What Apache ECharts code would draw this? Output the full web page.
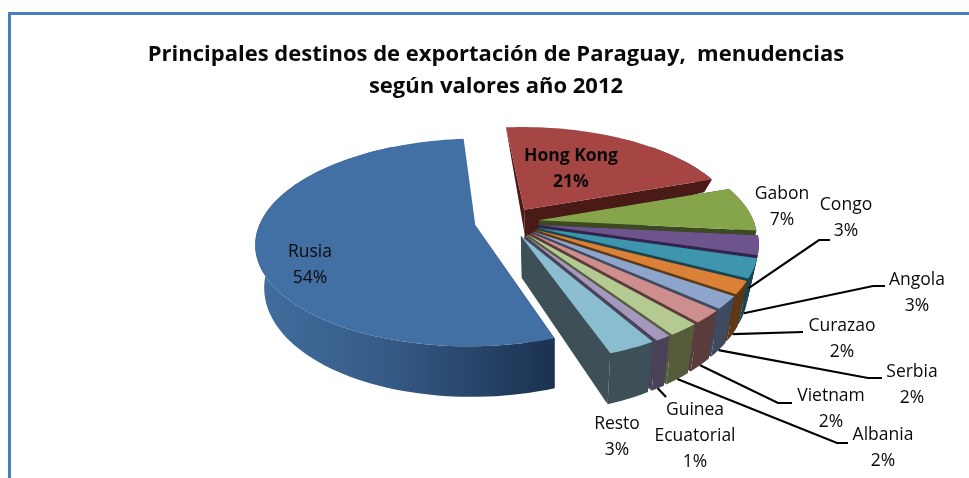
<!DOCTYPE html>
<html><head><meta charset="utf-8">
<style>html,body{margin:0;padding:0;background:#fff}#c{width:969px;height:478px}</style>
<script src="https://cdn.jsdelivr.net/npm/echarts@6/dist/echarts.min.js"></script>
</head><body><div id="c"></div>
<script>
const titleLines = ['Principales destinos de exportación de Paraguay,  menudencias', 'según valores año 2012'];
const categories = ['Rusia','Hong Kong','Gabon','Congo','Angola','Curazao','Serbia','Vietnam','Albania','Guinea\nEcuatorial','Resto'];
const values = [54,21,7,3,3,2,2,2,2,1,3];
const topColors = ['#4370A4','#A64644','#86A44A','#6E548D','#3D96AE','#DA8137','#8EA5CB','#CE8E8D','#B5CA92','#A499BC','#8BBDD1'];
const wallColors = ['#2C4A70','#4A1A17','#3B4A20','#33234D','#1A4550','#5E3714','#3D4A60','#5A3C3C','#545C3C','#4A4258','#3D5058'];

// Drawing settings (not data)
const pie = {cx:507, cy:222, rx:215, ry:100, persp:0.165, explode:0.15, startDeg:160.6};
// wall depth (px) at a given front-to-back position on the pie disc
const wallDepth = [[-0.85,0],[-0.48,12],[-0.128,27],[0.135,42],[0.97,50],[1.2,52]];
// label centre and optional leader elbow points (style/layout only)
const labelLayout = [
 {at:[310,265]},
 {at:[571,169],bold:true},
 {at:[782,207]},
 {at:[846,218], elbow:[[819,240],[830,240]]},
 {at:[917,293], elbow:[[873,286],[885,286]]},
 {at:[842,339], elbow:[[803,332]]},
 {at:[912,385], elbow:[[868,378],[882,378]]},
 {at:[831,409], elbow:[[778,403],[792,403]]},
 {at:[883,448], elbow:[[837,443],[848,443]]},
 {at:[695,436], elbow:[[666,397]]},
 {at:[617,437]}
];

const total = values.reduce((a,b)=>a+b,0);
const rad = d=>d*Math.PI/180;
const spans = []; (function(){let a=pie.startDeg; values.forEach(v=>{const s=v/total*360; spans.push([a,a+s]); a+=s;});})();

function disc(i,deg){
  const [a,b]=spans[i], m=rad((a+b)/2), t=rad(deg);
  return [Math.sin(t)+pie.explode*Math.sin(m), -Math.cos(t)-pie.explode*Math.cos(m)];
}
function proj(p){ const w=1-pie.persp*p[1]; return [pie.cx+pie.rx*p[0]/w, pie.cy+pie.ry*p[1]/w]; }
function depthAt(v){
  if(v<=wallDepth[0][0]) return 0;
  for(let k=1;k<wallDepth.length;k++){
    const [v0,d0]=wallDepth[k-1],[v1,d1]=wallDepth[k];
    if(v<=v1) return d0+(d1-d0)*(v-v0)/(v1-v0);
  }
  return wallDepth[wallDepth.length-1][1];
}
function drop(pt,v){
  const k=pt[0]<555?0.03:0.05;
  const d=depthAt(v);
  return d===0 ? pt : [pt[0]-(pt[0]-555)*k, pt[1]+d];
}
const topPt = (i,deg)=>proj(disc(i,deg));
const botPt = (i,deg)=>{const p=disc(i,deg);return drop(proj(p),p[1]);};
function apex(i){const [a,b]=spans[i],m=rad((a+b)/2);return [Math.sin(m)*pie.explode,-Math.cos(m)*pie.explode];}
function arcDegs(i){const [a,b]=spans[i],n=Math.max(2,Math.ceil((b-a)/2)),r=[];for(let k=0;k<=n;k++)r.push(a+(b-a)*k/n);return r;}

function renderSlice(params,api){
  const i=params.dataIndex, degs=arcDegs(i), A=apex(i), Atop=proj(A), Abot=drop(Atop,A[1]);
  const tops=degs.map(d=>topPt(i,d)), bots=degs.map(d=>botPt(i,d));
  const last=degs.length-1, wall=wallColors[i];
  const poly=(pts,fill)=>({type:'polygon',shape:{points:pts},style:{fill:fill,stroke:null}});
  const wallFill = i===0 ? new echarts.graphic.LinearGradient(0,0,1,0,[{offset:0,color:'#426E9F'},{offset:0.45,color:'#355A86'},{offset:1,color:'#1B3150'}]) : wall;
  const children=[poly([Atop,tops[0],bots[0],Abot],wall)];
  if(i>0) children.push(poly([Atop,tops[last],bots[last],Abot],wall));
  children.push(poly(tops.concat(bots.slice().reverse()),wallFill));
  children.push(poly([Atop].concat(tops),topColors[i]));
  return {type:'group',children};
}
function renderLabel(params,api){
  const i=params.dataIndex, L=labelLayout[i], [a,b]=spans[i];
  const children=[];
  if(L.elbow){
    const m=(a+b)/2, s=botPt(i,m);
    children.push({type:'polyline',shape:{points:[s].concat(L.elbow)},style:{stroke:'#000',lineWidth:2.2,fill:null}});
  }
  children.push({type:'text',x:L.at[0],y:L.at[1],style:{
    text:categories[i]+'\n'+Math.round(values[i]/total*100)+'%',
    x:0,y:0,align:'center',verticalAlign:'middle',lineHeight:26,
    font:(L.bold?'bold ':'')+'17.5px "Open Sans"',fill:'#0a0a0a'}});
  return {type:'group',children};
}
const chart=echarts.init(document.getElementById('c'),null,{renderer:'canvas'});
const sliceData=values.map((v,i)=>({name:categories[i],value:v}));
chart.setOption({
  animation:false,
  backgroundColor:'#fff',
  title:{text:titleLines.join('\n'),left:491,top:34,textAlign:'center',
    textStyle:{fontFamily:'Open Sans',fontWeight:'bold',fontSize:22,lineHeight:32,color:'#0a0a0a'}},
  graphic:[{type:'rect',silent:true,shape:{x:9.5,y:13.5,width:1000,height:500},style:{fill:null,stroke:'#4A7EBB',lineWidth:3}}],
  series:[
    {type:'custom',coordinateSystem:'none',data:sliceData,renderItem:renderSlice,silent:true,z:2},
    {type:'custom',coordinateSystem:'none',data:sliceData,renderItem:renderLabel,silent:true,z:3}
  ]
});
</script></body></html>
